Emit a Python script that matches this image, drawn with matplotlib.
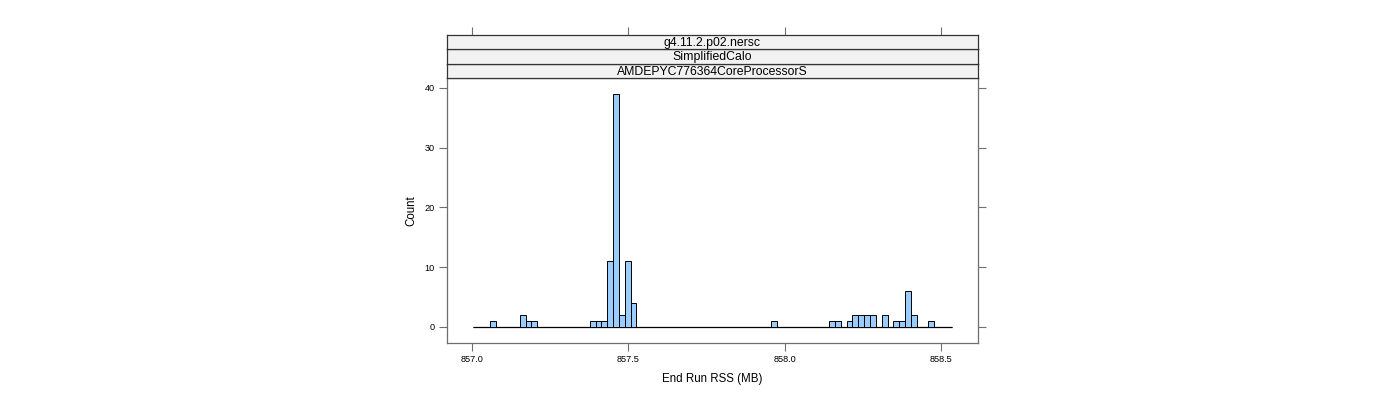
import numpy as np
import matplotlib
matplotlib.use('Agg')
import matplotlib.pyplot as plt

plt.rcParams['font.family'] = ['Liberation Sans', 'DejaVu Sans']

# histogram of end-run RSS (one count per bin)
bin_start = 857.003
bin_width = 0.01866
counts = [0, 0, 0, 1, 0, 0, 0, 0, 2, 1,
          1, 0, 0, 0, 0, 0, 0, 0, 0, 0,
          1, 1, 1, 11, 39, 2, 11, 4, 0, 0,
          0, 0, 0, 0, 0, 0, 0, 0, 0, 0,
          0, 0, 0, 0, 0, 0, 0, 0, 0, 0,
          0, 1, 0, 0, 0, 0, 0, 0, 0, 0,
          0, 1, 1, 0, 1, 2, 2, 2, 2, 0,
          2, 0, 1, 1, 6, 2, 0, 0, 1, 0,
          0, 0]
x_ticks = [857.0, 857.5, 858.0, 858.5]
y_ticks = [0, 10, 20, 30, 40]
strip_labels = ['g4.11.2.p02.nersc', 'SimplifiedCalo', 'AMDEPYC776364CoreProcessorS']

edges = bin_start + bin_width * np.arange(len(counts) + 1)
xlim = (856.920, 858.617)
ylim = (-2.68, 41.67)

frame_col = '#6e6e6e'
W, H = 1400, 400
fig = plt.figure(figsize=(14, 4), dpi=100)

# panel box in pixels
left, right, top, bottom = 447, 978, 78, 343
ax = fig.add_axes([left / W, 1 - bottom / H, (right - left) / W, (bottom - top) / H])
ax.hlines(0, edges[0], edges[-1], color='black', linewidth=0.9, zorder=1)
ax.bar(edges[:-1], counts, width=bin_width, align='edge',
       color='#99ccff', edgecolor='black', linewidth=0.7, zorder=2)
ax.set_xlim(*xlim)
ax.set_ylim(*ylim)
ax.set_xticks(x_ticks)
ax.set_xticklabels([f'{v:.1f}' for v in x_ticks])
ax.set_yticks(y_ticks)
ax.tick_params(direction='out', length=5.5, width=0.8, color=frame_col,
               labelsize=6.6, right=True, top=False, pad=3.5)
for s in ax.spines.values():
    s.set_color(frame_col)
    s.set_linewidth(0.9)
ax.set_xlabel('End Run RSS (MB)', fontsize=8.3, labelpad=6)
ax.set_ylabel('Count', fontsize=8.3, labelpad=5)

# strips stacked above the panel
strip_h = 14.4
for i, lab in enumerate(reversed(strip_labels)):
    y0 = top - (i + 1) * strip_h
    sax = fig.add_axes([left / W, 1 - (y0 + strip_h) / H, (right - left) / W, strip_h / H])
    sax.set_facecolor('#f2f2f2')
    sax.set_xlim(*xlim)
    sax.set_yticks([])
    sax.text(0.5, 0.45, lab, transform=sax.transAxes, ha='center', va='center',
             fontsize=8.8)
    for s in sax.spines.values():
        s.set_color('#333333')
        s.set_linewidth(0.9)
    if i == len(strip_labels) - 1:
        sax.set_xticks(x_ticks)
        sax.tick_params(axis='x', direction='out', length=5.5, width=0.8, color=frame_col,
                        bottom=False, top=True, labelbottom=False, labeltop=False)
    else:
        sax.set_xticks([])

fig.savefig('out.png', dpi=100)
